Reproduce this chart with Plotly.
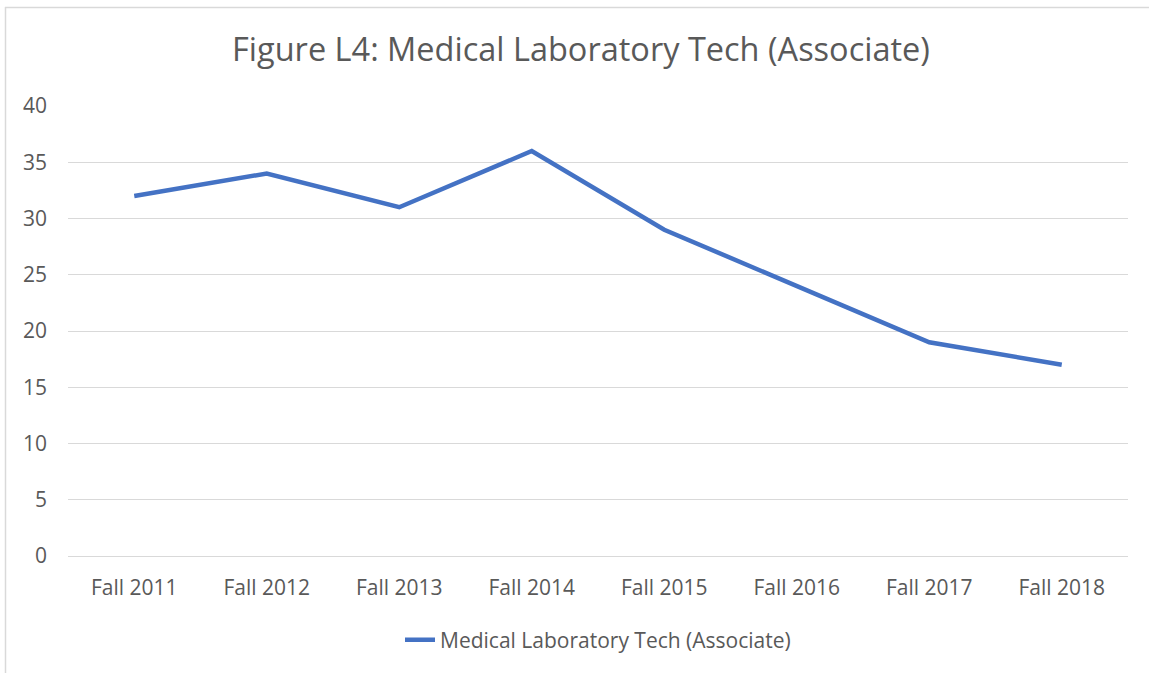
import plotly.graph_objects as go

categories = ["Fall 2011", "Fall 2012", "Fall 2013", "Fall 2014",
              "Fall 2015", "Fall 2016", "Fall 2017", "Fall 2018"]
values = [32, 34, 31, 36, 29, 24, 19, 17]
series_name = "Medical Laboratory Tech (Associate)"
title_text = "Figure L4: Medical Laboratory Tech (Associate)"
y_ticks = [0, 5, 10, 15, 20, 25, 30, 35, 40]

W, H = 1149, 673
L, R, T, B = 68, 21, 106, 117
pw, ph = W - L - R, H - T - B

def px_x(px):
    return (px - L) / pw

def px_y(py):
    return (H - B - py) / ph

fig = go.Figure()
fig.add_trace(go.Scatter(
    x=categories, y=values, mode="lines", name=series_name,
    line=dict(color="#4472C4", width=4.5),
))

font_family = "Open Sans"
grey = "#595959"
grid = "#D9D9D9"

fig.update_layout(
    width=W, height=H,
    margin=dict(l=L, r=R, t=T, b=B),
    paper_bgcolor="white", plot_bgcolor="white",
    font=dict(family=font_family, color=grey, size=21),
    title=dict(text=title_text, x=581 / W, xanchor="center", xref="container",
               y=1 - 50 / H, yanchor="middle", yref="container",
               font=dict(size=32.5, color=grey, family=font_family)),
    showlegend=True,
    legend=dict(orientation="h", x=px_x(598), xanchor="center",
                y=px_y(640), yanchor="middle", xref="paper", yref="paper",
                font=dict(size=21, color=grey)),
    xaxis=dict(type="category", range=[-0.5, len(categories) - 0.5],
               showgrid=False, showline=False, zeroline=False,
               ticks="", ticklabelstandoff=17,
               tickfont=dict(size=21, color=grey)),
    yaxis=dict(range=[0, 40], tickvals=y_ticks, showgrid=True,
               gridcolor=grid, gridwidth=1, zeroline=True,
               zerolinecolor=grid, zerolinewidth=1, showline=False,
               ticks="", ticklabelstandoff=20,
               tickfont=dict(size=21, color=grey)),
)

fig.add_shape(type="line", xref="paper", yref="paper",
              x0=px_x(5), x1=px_x(W + 5), y0=px_y(7.5), y1=px_y(7.5),
              line=dict(color=grid, width=1.5))
fig.add_shape(type="line", xref="paper", yref="paper",
              x0=px_x(5.5), x1=px_x(5.5), y0=px_y(7), y1=px_y(H + 5),
              line=dict(color=grid, width=1.5))

fig.write_html("out.html", config={"displayModeBar": False},
               post_script="document.body.style.margin='0';document.body.style.padding='0';document.body.style.overflow='hidden';")
